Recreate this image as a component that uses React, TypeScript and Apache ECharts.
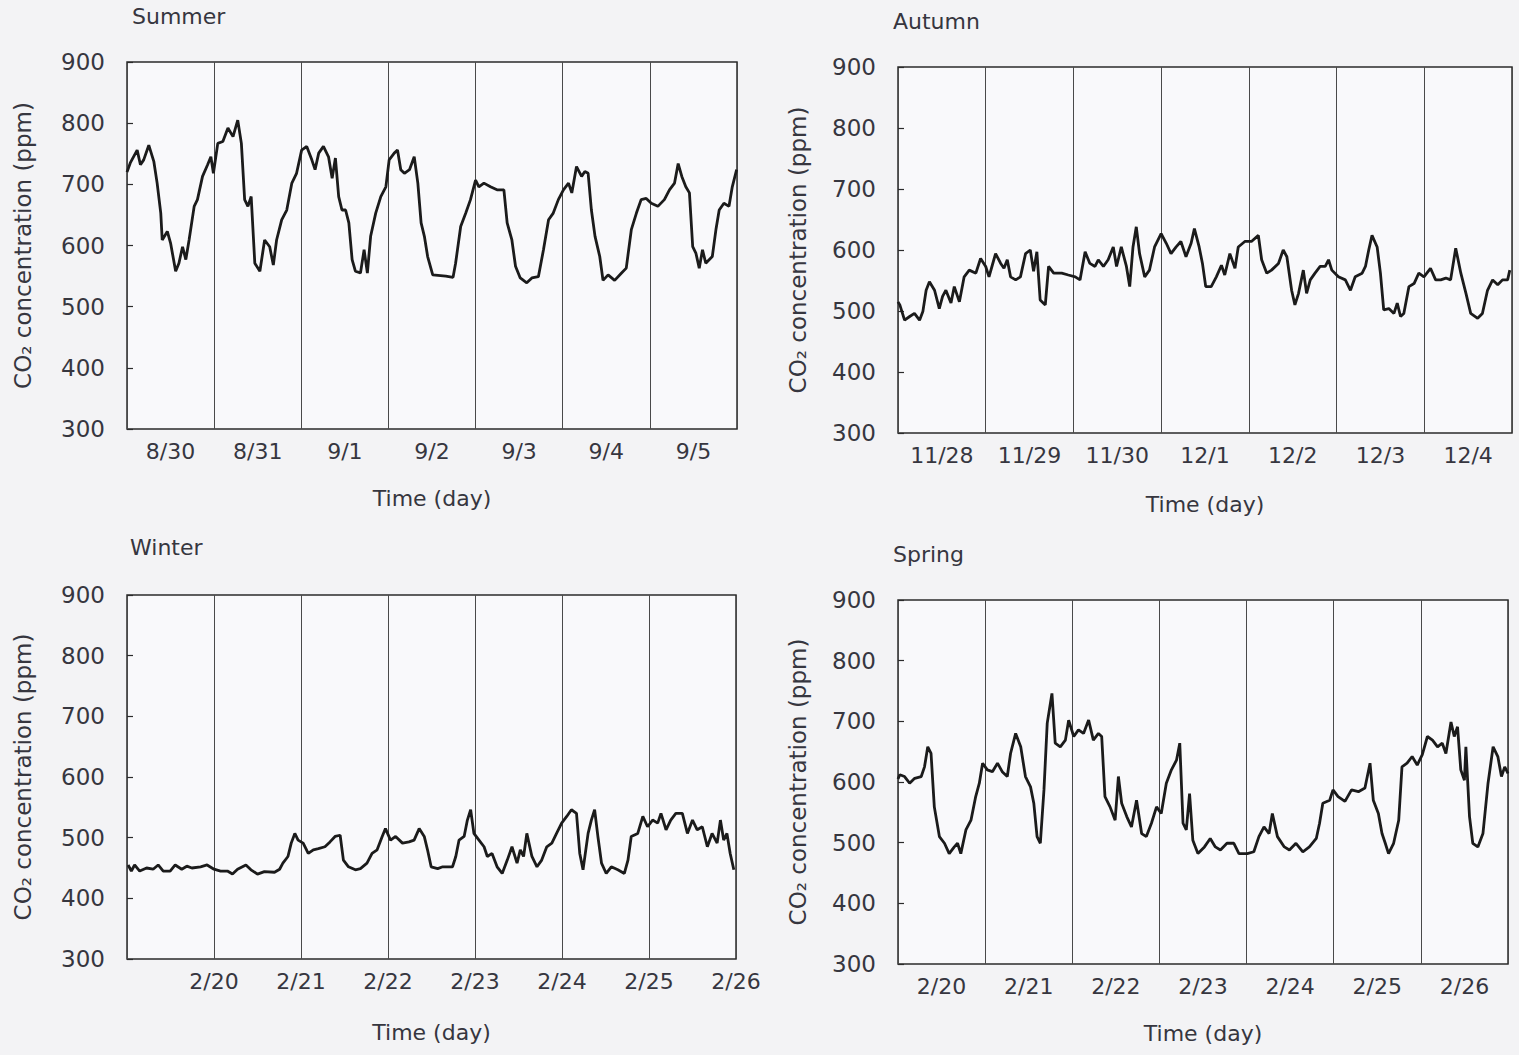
import React, { useEffect, useRef } from "react";
import * as echarts from "echarts";

// ---- Data: [hour from start of record, CO2 ppm] ----
const summer: number[][] = [
  [0, 720], [0.9, 735], [2.8, 756], [3.7, 732], [4.6, 740], [6.0, 764], [7.4, 737], [8.3, 702], [9.3, 653], [9.7, 609],
  [11.1, 623], [12.0, 604], [13.4, 558], [14.3, 571], [15.3, 598], [16.2, 577], [17.1, 609], [18.5, 664], [19.4, 675], [20.8, 713],
  [22.2, 732], [23.1, 745], [23.8, 718], [25.0, 767], [26.4, 770], [27.8, 792], [29.2, 778], [30.5, 805], [31.5, 767], [32.4, 675],
  [33.3, 664], [34.2, 680], [35.2, 571], [36.6, 558], [37.9, 609], [39.3, 598], [40.3, 568], [41.2, 609], [42.6, 642], [44.0, 658],
  [45.4, 702], [46.7, 718], [48.1, 756], [49.5, 762], [50.9, 740], [51.8, 724], [52.8, 751], [54.1, 762], [55.5, 745], [56.5, 710],
  [57.4, 743], [58.3, 680], [59.2, 658], [60.2, 658], [61.1, 637], [62.0, 577], [62.9, 558], [64.3, 555], [65.3, 593], [66.2, 555],
  [67.1, 615], [68.5, 653], [69.9, 680], [71.3, 696], [72.2, 740], [73.6, 751], [74.5, 756], [75.4, 724], [76.4, 718], [77.8, 724],
  [79.1, 745], [80.1, 702], [81.0, 637], [81.9, 615], [82.8, 582], [84.2, 552], [87.8, 550], [89.8, 548], [90.5, 571], [91.9, 631],
  [93.3, 653], [94.6, 675], [96.0, 707], [96.9, 696], [98.3, 702], [100.1, 696], [101.9, 691], [103.8, 691], [104.7, 637], [106.0, 609],
  [107.0, 566], [108.3, 547], [110.1, 539], [111.5, 547], [113.3, 549], [114.7, 593], [116.1, 642], [117.4, 653], [118.8, 675], [120.2, 691],
  [121.6, 702], [122.5, 686], [123.8, 729], [125.2, 713], [126.1, 721], [127.0, 718], [127.9, 658], [128.9, 615], [130.2, 582], [131.1, 543],
  [132.5, 552], [134.3, 543], [136.2, 555], [137.5, 563], [138.9, 626], [140.3, 653], [141.6, 675], [143.0, 677], [144.4, 669], [146.2, 664],
  [148.0, 675], [149.4, 691], [150.8, 702], [151.8, 734], [152.8, 713], [153.9, 696], [154.9, 686], [155.8, 598], [156.7, 587], [157.6, 563],
  [158.5, 593], [159.4, 571], [161.2, 582], [162.2, 626], [163.1, 658], [164.4, 669], [165.8, 664], [166.7, 696], [167.9, 724],
];

const autumn: number[][] = [
  [0, 515], [0.5, 510], [1.8, 485], [3.2, 491], [4.5, 496], [5.9, 485], [6.8, 499], [7.7, 534], [8.6, 548], [10.0, 534],
  [11.3, 504], [12.2, 524], [13.1, 534], [14.5, 513], [15.4, 540], [16.8, 515], [18.1, 556], [19.5, 567], [21.3, 562], [22.6, 586],
  [24.0, 573], [24.9, 556], [25.8, 575], [26.7, 594], [28.1, 578], [29.0, 570], [29.9, 584], [30.8, 556], [32.2, 551], [33.5, 556],
  [34.9, 594], [36.2, 600], [37.1, 565], [38.0, 597], [38.9, 518], [40.3, 510], [41.2, 573], [42.6, 562], [44.8, 562], [46.6, 559],
  [48.5, 556], [49.8, 551], [51.2, 597], [52.5, 578], [53.9, 573], [54.8, 584], [56.2, 573], [57.5, 584], [58.9, 605], [59.8, 573],
  [61.1, 605], [62.5, 573], [63.4, 540], [64.3, 605], [65.2, 638], [66.1, 594], [67.5, 556], [68.8, 567], [70.2, 605], [72.0, 627],
  [73.4, 611], [74.7, 594], [76.1, 605], [77.4, 614], [78.8, 589], [80.2, 611], [81.1, 635], [82.4, 605], [83.3, 578], [84.2, 540],
  [85.7, 540], [87.1, 556], [88.5, 575], [89.4, 559], [90.8, 594], [92.2, 570], [93.1, 605], [94.9, 614], [96.7, 614], [98.6, 624],
  [99.5, 584], [100.9, 562], [102.2, 567], [104.1, 578], [105.4, 600], [106.4, 589], [107.7, 534], [108.6, 510], [109.6, 529], [110.9, 567],
  [111.8, 529], [112.8, 551], [114.1, 562], [115.5, 573], [116.9, 573], [117.8, 584], [118.7, 567], [120.5, 556], [122.4, 551], [123.8, 534],
  [125.1, 556], [127.0, 562], [127.9, 573], [128.8, 600], [129.7, 624], [131.1, 605], [132.0, 562], [132.9, 502], [134.3, 504], [135.7, 496],
  [136.6, 513], [137.5, 491], [138.4, 496], [139.8, 540], [141.2, 545], [142.5, 562], [143.9, 556], [145.7, 570], [147.1, 551], [148.5, 551],
  [149.9, 554], [151.2, 551], [152.6, 603], [154.0, 562], [155.4, 529], [156.7, 496], [158.6, 488], [159.9, 496], [161.3, 534], [162.7, 551],
  [164.1, 543], [165.4, 551], [166.8, 551], [167.4, 567],
];

const winter: number[][] = [
  [0.3, 455], [1.2, 445], [2.1, 455], [3.5, 445], [5.4, 450], [7.2, 448], [8.6, 455], [10.0, 445], [11.9, 445], [13.3, 455],
  [15.1, 448], [16.5, 453], [17.9, 450], [20.3, 452], [22.1, 455], [24.0, 448], [25.8, 445], [27.7, 445], [29.1, 440], [30.5, 448],
  [32.8, 455], [34.2, 447], [36.0, 440], [37.9, 444], [40.7, 443], [42.1, 448], [43.0, 458], [44.4, 469], [45.3, 491], [46.3, 507],
  [47.2, 496], [48.6, 491], [50.0, 474], [51.4, 480], [52.8, 482], [54.6, 485], [56.0, 493], [57.4, 502], [58.8, 504], [59.7, 463],
  [61.1, 452], [63.0, 447], [64.4, 449], [66.2, 458], [67.6, 474], [69.0, 480], [70.4, 502], [71.3, 515], [72.7, 496], [74.1, 502],
  [76.0, 491], [77.8, 493], [79.2, 496], [80.6, 515], [82.0, 502], [82.9, 480], [83.9, 452], [85.7, 449], [87.1, 452], [89.8, 452],
  [90.7, 469], [91.6, 496], [93.0, 502], [93.9, 529], [94.8, 546], [95.7, 507], [97.1, 496], [98.5, 485], [99.4, 469], [100.7, 474],
  [102.1, 452], [103.5, 441], [104.9, 463], [106.2, 485], [107.6, 458], [108.5, 480], [109.4, 469], [110.3, 507], [111.7, 469], [113.1, 452],
  [114.4, 463], [115.8, 485], [117.2, 491], [118.5, 507], [119.9, 524], [121.3, 535], [122.6, 546], [124.0, 540], [124.9, 474], [125.8, 447],
  [127.2, 507], [128.1, 529], [129.0, 546], [129.9, 502], [130.9, 458], [132.2, 441], [133.6, 452], [135.4, 447], [137.2, 441], [138.2, 463],
  [139.1, 502], [140.9, 507], [142.3, 535], [143.6, 518], [145.0, 529], [146.4, 524], [147.3, 540], [148.7, 513], [150.0, 529], [151.4, 540],
  [153.2, 540], [154.6, 507], [156.0, 529], [157.3, 513], [158.7, 518], [160.1, 485], [161.4, 507], [162.8, 491], [163.7, 529], [164.6, 496],
  [165.5, 507], [166.4, 474], [167.4, 447],
];

const spring: number[][] = [
  [0, 605], [0.5, 612], [1.8, 609], [3.2, 598], [4.6, 606], [6.4, 609], [7.3, 625], [8.2, 658], [9.1, 647], [10.0, 559],
  [11.4, 510], [12.8, 499], [14.1, 482], [15.5, 493], [16.4, 499], [17.3, 482], [18.7, 521], [20.1, 537], [21.4, 576], [22.4, 598],
  [23.3, 631], [24.6, 620], [26.0, 617], [27.4, 631], [28.7, 617], [30.1, 609], [31.0, 647], [32.4, 680], [33.8, 658], [35.1, 609],
  [36.5, 592], [37.4, 565], [38.3, 510], [39.2, 499], [40.2, 587], [41.1, 697], [42.4, 746], [43.3, 664], [44.7, 658], [46.1, 669],
  [47.0, 702], [48.4, 675], [49.7, 686], [51.1, 680], [52.5, 702], [53.8, 669], [55.2, 680], [56.1, 675], [57.0, 576], [58.4, 559],
  [59.8, 537], [60.7, 609], [61.6, 565], [63.0, 543], [64.3, 526], [65.7, 570], [67.1, 515], [68.4, 510], [69.8, 532], [71.2, 559],
  [72.5, 548], [73.9, 598], [75.3, 620], [76.7, 636], [77.6, 664], [78.5, 532], [79.4, 521], [80.3, 581], [81.2, 504], [82.6, 482],
  [84.4, 493], [86.0, 507], [87.4, 493], [88.8, 488], [90.6, 499], [92.5, 499], [93.9, 482], [96.2, 482], [98.0, 485], [99.4, 510],
  [100.8, 526], [102.2, 515], [103.1, 548], [104.5, 510], [106.4, 493], [107.8, 488], [109.6, 499], [111.5, 485], [113.3, 493], [115.2, 507],
  [116.1, 532], [117.0, 565], [118.9, 570], [119.8, 587], [121.2, 576], [123.1, 568], [124.9, 587], [126.8, 584], [128.6, 590], [130.0, 631],
  [130.9, 570], [132.3, 548], [133.3, 515], [134.2, 499], [135.1, 482], [136.5, 499], [137.9, 537], [138.8, 625], [140.2, 631], [141.6, 642],
  [143.0, 628], [144.4, 645], [145.8, 675], [147.2, 669], [148.6, 658], [149.9, 664], [150.9, 647], [152.3, 699], [153.2, 675], [154.1, 691],
  [155.0, 620], [156.0, 603], [156.4, 658], [157.4, 543], [158.3, 499], [159.7, 493], [161.1, 515], [162.5, 598], [163.9, 658], [165.2, 642],
  [166.2, 609], [167.1, 625], [168.0, 614],
];

// ---- Tick labels ----
const summerDays = ["8/30", "8/31", "9/1", "9/2", "9/3", "9/4", "9/5"];
const autumnDays = ["11/28", "11/29", "11/30", "12/1", "12/2", "12/3", "12/4"];
const winterDays = ["", "2/20", "2/21", "2/22", "2/23", "2/24", "2/25", "2/26"];
const springDays = ["2/20", "2/21", "2/22", "2/23", "2/24", "2/25", "2/26"];
const seasonTitles = ["Summer", "Autumn", "Winter", "Spring"];

const Y_MIN = 300;
const Y_MAX = 900;
const Y_STEP = 100;
const HOURS = 168;

const FONT = "DejaVu Sans";
const TEXT = "#36363f";
const LINE = "#1b1b1b";

const panels = [
  { title: seasonTitles[0], data: summer, days: summerDays, centered: true,
    grid: { left: 127, top: 62, width: 610, height: 367 }, titlePos: { left: 132, top: 5 }, yGap: 93, xGap: 58 },
  { title: seasonTitles[1], data: autumn, days: autumnDays, centered: true,
    grid: { left: 898, top: 67, width: 614, height: 366 }, titlePos: { left: 893, top: 10 }, yGap: 89, xGap: 60 },
  { title: seasonTitles[2], data: winter, days: winterDays, centered: false,
    grid: { left: 127, top: 595, width: 609, height: 364 }, titlePos: { left: 130, top: 536 }, yGap: 93, xGap: 62 },
  { title: seasonTitles[3], data: spring, days: springDays, centered: true,
    grid: { left: 898, top: 600, width: 610, height: 364 }, titlePos: { left: 893, top: 543 }, yGap: 89, xGap: 58 },
];

export default function App() {
  const ref = useRef<HTMLDivElement>(null);

  useEffect(() => {
    if (!ref.current) return;
    const chart = echarts.init(ref.current, undefined, { renderer: "svg" });

    const grid: any[] = [];
    const xAxis: any[] = [];
    const yAxis: any[] = [];
    const series: any[] = [];
    const title: any[] = [];

    panels.forEach((p, i) => {
      grid.push({
        ...p.grid,
        show: true,
        borderColor: "#2b2b2b",
        borderWidth: 1.5,
        backgroundColor: "#f9f9fb",
        containLabel: false,
      });
      title.push({
        text: p.title,
        left: p.titlePos.left,
        top: p.titlePos.top,
        padding: 0,
        textStyle: { fontFamily: FONT, fontSize: 22, fontWeight: "normal", color: TEXT },
      });
      // data axis (hours)
      xAxis.push({
        type: "value",
        gridIndex: i,
        min: 0,
        max: HOURS,
        interval: 24,
        axisLine: { show: false },
        axisTick: { show: false },
        axisLabel: { show: false },
        splitLine: { show: true, lineStyle: { color: "#4a4a4a", width: 1 } },
      });
      // label axis (dates)
      xAxis.push({
        type: "category",
        gridIndex: i,
        data: p.days,
        boundaryGap: p.centered,
        position: "bottom",
        axisLine: { show: false },
        axisTick: { show: false },
        splitLine: { show: false },
        axisLabel: {
          interval: 0,
          margin: 11,
          fontFamily: FONT,
          fontSize: 22,
          color: TEXT,
        },
        name: "Time (day)",
        nameLocation: "middle",
        nameGap: p.xGap,
        nameTextStyle: { fontFamily: FONT, fontSize: 22, color: TEXT },
      });
      yAxis.push({
        type: "value",
        gridIndex: i,
        min: Y_MIN,
        max: Y_MAX,
        interval: Y_STEP,
        axisLine: { show: false },
        axisTick: { show: true, inside: true, length: 6, lineStyle: { color: "#2b2b2b", width: 1.2 } },
        splitLine: { show: false },
        axisLabel: { margin: 22, fontFamily: FONT, fontSize: 23, color: TEXT },
        name: "CO\u2082 concentration (ppm)",
        nameLocation: "middle",
        nameGap: p.yGap,
        nameTextStyle: { fontFamily: FONT, fontSize: 23, color: TEXT },
      });
      series.push({
        type: "line",
        name: p.title,
        xAxisIndex: i * 2,
        yAxisIndex: i,
        data: p.data,
        showSymbol: false,
        symbol: "none",
        lineStyle: { color: LINE, width: 2.8 },
        z: 3,
      });
    });

    chart.setOption({
      animation: false,
      backgroundColor: "#f3f3f5",
      textStyle: { fontFamily: FONT },
      title,
      grid,
      xAxis,
      yAxis,
      series,
    });

    return () => chart.dispose();
  }, []);

  return (
    <div
      ref={ref}
      style={{ position: "fixed", left: 0, top: 0, width: 1519, height: 1055 }}
    />
  );
}
